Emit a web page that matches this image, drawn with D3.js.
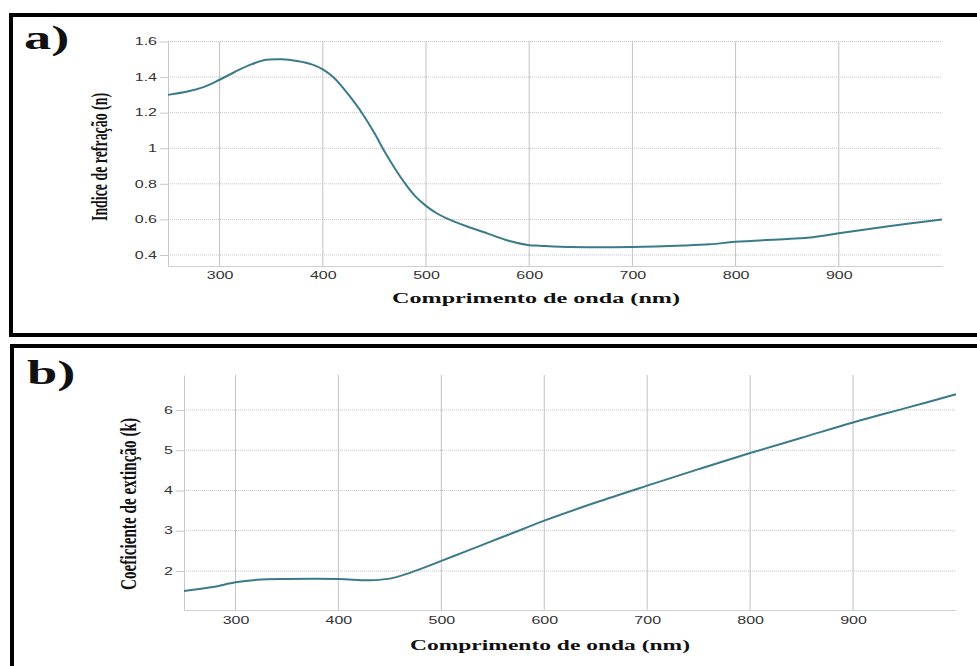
<!DOCTYPE html>
<html>
<head>
<meta charset="utf-8">
<script src="https://cdn.jsdelivr.net/npm/d3@7"></script>
<style>
  html, body { margin: 0; padding: 0; background: #fff; }
  svg { display: block; }
</style>
</head>
<body>
<svg id="chart" width="977" height="666"></svg>
<script>
// wavelength (nm) and refractive index n  -- panel a
const waveA = [250, 270, 285, 300, 315, 330, 345, 360, 375, 390, 400, 410, 420, 430, 440, 450, 460, 470, 480, 490, 500, 510, 520, 540, 560, 580, 600, 610, 630, 700, 750, 775, 800, 850, 875, 900, 950, 1000];
const nValues = [1.30, 1.32, 1.345, 1.385, 1.43, 1.47, 1.497, 1.50, 1.49, 1.47, 1.443, 1.40, 1.337, 1.263, 1.18, 1.085, 0.98, 0.885, 0.80, 0.728, 0.676, 0.636, 0.606, 0.56, 0.52, 0.48, 0.455, 0.452, 0.446, 0.445, 0.453, 0.46, 0.474, 0.49, 0.50, 0.522, 0.563, 0.60];

// wavelength (nm) and extinction coefficient k  -- panel b
const waveB = [250, 278, 300, 321, 350, 400, 430, 450, 470, 500, 520, 540, 560, 580, 600, 650, 700, 750, 800, 850, 900, 950, 1000];
const kValues = [1.50, 1.60, 1.72, 1.78, 1.80, 1.80, 1.77, 1.81, 1.96, 2.25, 2.45, 2.65, 2.85, 3.05, 3.25, 3.70, 4.12, 4.53, 4.93, 5.31, 5.69, 6.04, 6.39];

const xTicks = [300, 400, 500, 600, 700, 800, 900];
const nTicks = [0.4, 0.6, 0.8, 1, 1.2, 1.4, 1.6];
const kTicks = [2, 3, 4, 5, 6];

const xTitle = "Comprimento de onda (nm)";
const nTitle = "Indice de refração (n)";
const kTitle = "Coeficiente de extinção (k)";

const lineColor = "#3b7a88";
const stretch = 1.6;   // the source picture is stretched sideways

const svg = d3.select("#chart");

function panel(cfg) {
  const x = d3.scaleLinear().domain([250, 1000]).range([cfg.left, cfg.right]);
  const y = d3.scaleLinear().domain(cfg.yDomain).range([cfg.bottom, cfg.top]);

  // frame
  svg.append("rect")
    .attr("x", cfg.frame[0]).attr("y", cfg.frame[1])
    .attr("width", cfg.frame[2]).attr("height", cfg.frame[3])
    .attr("fill", "none").attr("stroke", "#000").attr("stroke-width", 4);

  // panel letter
  svg.append("text")
    .attr("transform", `translate(${cfg.letterPos[0]},${cfg.letterPos[1]}) scale(${stretch},1)`)
    .attr("font-family", "Liberation Serif").attr("font-weight", "bold")
    .attr("font-size", 34).attr("fill", "#111")
    .text(cfg.letter);

  // horizontal grid (dotted)
  svg.append("g").selectAll("line").data(cfg.yTicks).join("line")
    .attr("x1", cfg.left).attr("x2", cfg.right)
    .attr("y1", d => y(d)).attr("y2", d => y(d))
    .attr("stroke", "#c4c4c4").attr("stroke-dasharray", "1,1");

  // vertical grid (solid)
  svg.append("g").selectAll("line").data(xTicks).join("line")
    .attr("x1", d => x(d)).attr("x2", d => x(d))
    .attr("y1", cfg.top).attr("y2", cfg.bottom)
    .attr("stroke", "#c2c2c2");

  // y axis
  svg.append("g")
    .attr("transform", `translate(${cfg.left},0)`)
    .call(d3.axisLeft(y).tickValues(cfg.yTicks).tickFormat(d3.format("~g")).tickSize(8).tickSizeOuter(0))
    .call(g => g.select(".domain").attr("stroke", "#c8c8c8"))
    .call(g => g.selectAll(".tick line").attr("stroke", "#c8c8c8"))
    .call(g => g.selectAll(".tick text")
      .attr("x", null)
      .attr("transform", `translate(-11,0) scale(${stretch},1)`)
      .attr("font-family", "Liberation Sans").attr("font-size", 10).attr("fill", "#333"));

  // x axis
  svg.append("g")
    .attr("transform", `translate(0,${cfg.bottom})`)
    .call(d3.axisBottom(x).tickValues(xTicks).tickSize(0).tickPadding(cfg.xPad).tickSizeOuter(0))
    .call(g => g.select(".domain").attr("stroke", "#cfcfcf"))
    .call(g => g.selectAll(".tick text")
      .attr("transform", `scale(${stretch},1)`)
      .attr("font-family", "Liberation Sans").attr("font-size", 10).attr("fill", "#333"));

  // curve
  const line = d3.line()
    .x((d, i) => x(cfg.wave[i]))
    .y(d => y(d))
    .curve(d3.curveCatmullRom.alpha(0.5));
  svg.append("path")
    .datum(cfg.values)
    .attr("fill", "none")
    .attr("stroke", lineColor)
    .attr("stroke-width", 2)
    .attr("d", line);

  // x title
  svg.append("text")
    .attr("x", cfg.xTitlePos[0]).attr("y", cfg.xTitlePos[1])
    .attr("text-anchor", "middle")
    .attr("textLength", cfg.xTitleLen).attr("lengthAdjust", "spacingAndGlyphs")
    .attr("font-family", "Liberation Serif").attr("font-weight", "bold")
    .attr("font-size", 15).attr("fill", "#111")
    .text(xTitle);

  // y title
  svg.append("text")
    .attr("transform", `translate(${cfg.yTitlePos[0]},${cfg.yTitlePos[1]}) scale(${stretch},1) rotate(-90)`)
    .attr("text-anchor", "middle")
    .attr("textLength", cfg.yTitleLen).attr("lengthAdjust", "spacingAndGlyphs")
    .attr("font-family", "Liberation Serif").attr("font-weight", "bold")
    .attr("font-size", 14).attr("fill", "#111")
    .text(cfg.yTitle);
}

panel({
  frame: [11, 15, 990, 320],
  letter: "a)", letterPos: [24, 49],
  left: 168, right: 942, top: 41.5, bottom: 266,
  yDomain: [0.338, 1.6], yTicks: nTicks,
  wave: waveA, values: nValues,
  xPad: 5.5,
  xTitlePos: [536, 303], xTitleLen: 288,
  yTitle: nTitle, yTitlePos: [107, 157], yTitleLen: 128
});

panel({
  frame: [12, 346, 990, 340],
  letter: "b)", letterPos: [27, 384],
  left: 184, right: 956, top: 375, bottom: 610,
  yDomain: [1.03, 6.87], yTicks: kTicks,
  wave: waveB, values: kValues,
  xPad: 6.5,
  xTitlePos: [550, 650], xTitleLen: 280,
  yTitle: kTitle, yTitlePos: [136, 504], yTitleLen: 172
});
</script>
</body>
</html>
